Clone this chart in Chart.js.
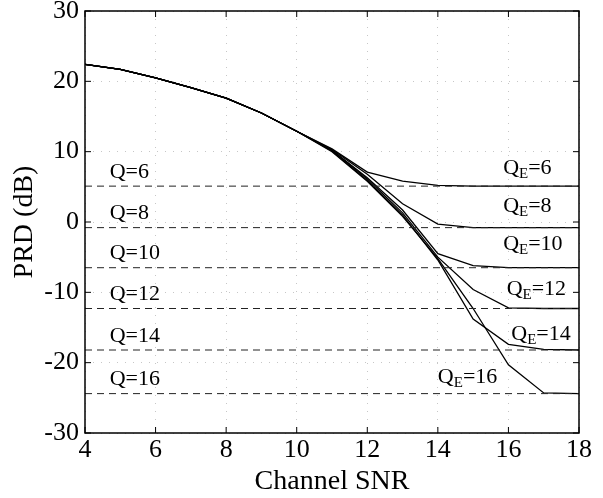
<!DOCTYPE html>
<html>
<head>
<meta charset="utf-8">
<script src="https://cdn.jsdelivr.net/npm/chart.js@4/dist/chart.umd.min.js"></script>
<style>
  html, body { margin: 0; padding: 0; background: #fff; }
  #wrap { width: 603px; height: 498px; }
</style>
</head>
<body>
<div id="wrap"><canvas id="chart"></canvas></div>
<script>
// channel SNR samples
const snr = [4, 5, 6, 7, 8, 9, 10, 11, 12, 13, 14, 15, 16, 17, 18];

// PRD (dB) for each encoder quantization Q_E
const prdQE6  = [22.4, 21.7, 20.5, 19.1, 17.6, 15.5, 12.9, 10.4, 7.1, 5.8, 5.2, 5.1, 5.1, 5.1, 5.1];
const prdQE8  = [22.4, 21.7, 20.5, 19.1, 17.6, 15.5, 12.9, 10.3, 6.8, 2.6, -0.3, -0.8, -0.8, -0.8, -0.8];
const prdQE10 = [22.4, 21.7, 20.5, 19.1, 17.6, 15.5, 12.9, 10.2, 6.3, 1.7, -4.5, -6.2, -6.5, -6.5, -6.5];
const prdQE12 = [22.4, 21.7, 20.5, 19.1, 17.6, 15.5, 12.9, 10.2, 6.1, 1.3, -5.0, -9.6, -12.2, -12.3, -12.3];
const prdQE14 = [22.4, 21.7, 20.5, 19.1, 17.6, 15.5, 12.9, 10.1, 5.9, 1.0, -5.4, -13.8, -17.4, -18.1, -18.2];
const prdQE16 = [22.4, 21.7, 20.5, 19.1, 17.6, 15.5, 12.9, 10.0, 5.8, 0.8, -5.2, -12.3, -20.3, -24.3, -24.4];

// error-free channel PRD for each Q (dashed lines)
const qNames  = ['6', '8', '10', '12', '14', '16'];
const qLevels = [5.1, -0.8, -6.5, -12.3, -18.2, -24.4];

// axis ticks
const xTicks = [4, 6, 8, 10, 12, 14, 16, 18];
const yTicks = [-30, -20, -10, 0, 10, 20, 30];

const serif = "'Liberation Serif', 'Times New Roman', serif";

const curves = [prdQE6, prdQE8, prdQE10, prdQE12, prdQE14, prdQE16];

const datasets = [];
qLevels.forEach(v => {
  datasets.push({
    data: [{ x: snr[0], y: v }, { x: snr[snr.length - 1], y: v }],
    borderColor: '#222',
    borderWidth: 1,
    borderDash: [7, 5],
    pointRadius: 0,
    fill: false
  });
});
curves.forEach(c => {
  datasets.push({
    data: snr.map((x, i) => ({ x: x, y: c[i] })),
    borderColor: '#000',
    borderWidth: 1.3,
    pointRadius: 0,
    tension: 0,
    fill: false
  });
});

// where the Q_E labels sit (data coords of left edge / vertical centre)
const qeLabelX = [15.85, 15.85, 15.85, 15.95, 16.08, 14.0];
const qeLabelY = [7.6, 2.3, -3.1, -9.6, -16.0, -22.0];

const frame = {
  id: 'frame',
  afterDatasetsDraw(chart) {
    const { ctx, chartArea: a, scales } = chart;
    const xs = scales.x, ys = scales.y;
    ctx.save();
    ctx.strokeStyle = '#000';
    ctx.lineWidth = 1.5;
    ctx.strokeRect(a.left, a.top, a.right - a.left, a.bottom - a.top);
    ctx.lineWidth = 1;
    ctx.beginPath();
    xTicks.forEach(t => {
      const px = xs.getPixelForValue(t);
      ctx.moveTo(px, a.bottom); ctx.lineTo(px, a.bottom - 6);
      ctx.moveTo(px, a.top); ctx.lineTo(px, a.top + 6);
    });
    yTicks.forEach(t => {
      const py = ys.getPixelForValue(t);
      ctx.moveTo(a.left, py); ctx.lineTo(a.left + 6, py);
      ctx.moveTo(a.right, py); ctx.lineTo(a.right - 6, py);
    });
    ctx.stroke();

    // Q labels over dashed lines
    ctx.fillStyle = '#000';
    ctx.font = '22px ' + serif;
    ctx.textBaseline = 'middle';
    ctx.textAlign = 'left';
    qNames.forEach((n, i) => {
      const py = ys.getPixelForValue(qLevels[i]) - 14;
      ctx.fillText('Q=' + n, xs.getPixelForValue(4.7), py);
    });

    // Q_E labels with subscript
    qNames.forEach((n, i) => {
      let px = xs.getPixelForValue(qeLabelX[i]);
      const py = ys.getPixelForValue(qeLabelY[i]);
      ctx.font = '22px ' + serif;
      ctx.fillText('Q', px, py);
      px += ctx.measureText('Q').width;
      ctx.font = '15px ' + serif;
      ctx.fillText('E', px, py + 6);
      px += ctx.measureText('E').width;
      ctx.font = '22px ' + serif;
      ctx.fillText('=' + n, px, py);
    });
    ctx.restore();
  }
};

new Chart(document.getElementById('chart'), {
  type: 'line',
  data: { datasets: datasets },
  options: {
    responsive: true,
    maintainAspectRatio: false,
    animation: false,
    events: [],
    layout: { padding: { top: 11, right: 24, left: 0, bottom: 0 } },
    plugins: { legend: { display: false }, tooltip: { enabled: false } },
    scales: {
      x: {
        type: 'linear',
        min: 4,
        max: 18,
        afterBuildTicks: s => { s.ticks = xTicks.map(v => ({ value: v })); },
        afterFit: s => { s.height = 65; s.paddingLeft = 0; s.paddingRight = 0; },
        ticks: { color: '#000', font: { family: serif, size: 26 }, padding: 2, maxRotation: 0 },
        grid: { color: 'rgba(0,0,0,0.22)', lineWidth: 1, drawTicks: false },
        border: { display: false, dash: [1, 7] },
        title: { display: true, text: 'Channel SNR', color: '#000', font: { family: serif, size: 28 }, padding: { top: 0, bottom: 0 } }
      },
      y: {
        min: -30,
        max: 30,
        afterBuildTicks: s => { s.ticks = yTicks.map(v => ({ value: v })); },
        afterFit: s => { s.width = 85; s.paddingTop = 0; s.paddingBottom = 0; },
        ticks: { color: '#000', font: { family: serif, size: 26 }, padding: 6 },
        grid: { color: 'rgba(0,0,0,0.22)', lineWidth: 1, drawTicks: false },
        border: { display: false, dash: [1, 7] },
        title: { display: true, text: 'PRD (dB)', color: '#000', font: { family: serif, size: 28 }, padding: { top: 8, bottom: 0 } }
      }
    }
  },
  plugins: [frame]
});
</script>
</body>
</html>
